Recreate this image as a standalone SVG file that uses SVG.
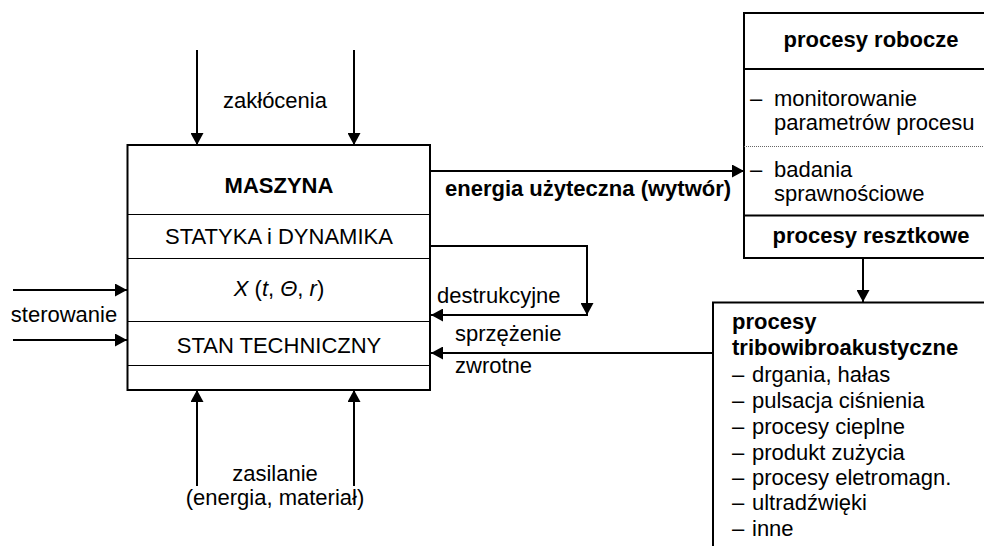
<svg xmlns="http://www.w3.org/2000/svg" width="984" height="546" viewBox="0 0 984 546">
  <defs>
    <marker id="arrow" markerUnits="userSpaceOnUse" markerWidth="13" markerHeight="13" refX="12" refY="6.5" orient="auto">
      <path d="M0,0 L12,6.5 L0,13 z" fill="#000"/>
    </marker>
    <style>
      text { font-family: "Liberation Sans", Arial, sans-serif; font-size: 22px; fill: #000; }
      .b { font-weight: bold; }
      .c { text-anchor: middle; }
      .box { fill: #fff; stroke: #000; stroke-width: 2; }
      .div { stroke: #000; stroke-width: 1; }
      .thick { stroke: #000; stroke-width: 2; }
      .dot { stroke: #666; stroke-width: 1; stroke-dasharray: 1 1; }
      .con { fill: none; stroke: #000; stroke-width: 2; }
      .arr { marker-end: url(#arrow); }
    </style>
  </defs>
  <rect width="984" height="546" fill="#fff"/>

  <!-- connectors -->
  <g id="connectors">
    <!-- disturbances (top) -->
    <line class="con arr" x1="197" y1="50" x2="197" y2="145"/>
    <line class="con arr" x1="354" y1="50" x2="354" y2="145"/>
    <!-- supply (bottom) -->
    <line class="con arr" x1="197" y1="486" x2="197" y2="390"/>
    <line class="con arr" x1="354" y1="486" x2="354" y2="390"/>
    <!-- control (left) -->
    <line class="con arr" x1="13" y1="290" x2="127" y2="290"/>
    <line class="con arr" x1="13" y1="340" x2="127" y2="340"/>
    <!-- useful energy -->
    <line class="con arr" x1="430" y1="171" x2="744" y2="171"/>
    <!-- destructive loop -->
    <polyline class="con arr" points="430,246 587,246 587,315"/>
    <line class="con arr" x1="588" y1="315" x2="431" y2="315"/>
    <!-- feedback -->
    <line class="con arr" x1="713" y1="353" x2="431" y2="353"/>
    <!-- residual -> tribo-vibro-acoustic -->
    <line class="con arr" x1="863" y1="258" x2="863" y2="302"/>
  </g>

  <!-- free labels -->
  <g id="labels">
    <text class="c" x="275" y="108">zakłócenia</text>
    <text class="c" x="64" y="322">sterowanie</text>
    <text class="c" x="275" y="481">zasilanie</text>
    <text class="c" x="275" y="505">(energia, materiał)</text>
    <text class="b" x="445" y="196">energia użyteczna (wytwór)</text>
    <text x="437" y="303">destrukcyjne</text>
    <text x="455" y="341">sprzężenie</text>
    <text x="455" y="373">zwrotne</text>
  </g>

  <!-- machine -->
  <g id="maszyna">
    <rect class="box" x="127.5" y="145" width="302.5" height="245"/>
    <line class="div" x1="127.5" y1="214.5" x2="430" y2="214.5"/>
    <line class="div" x1="127.5" y1="258.5" x2="430" y2="258.5"/>
    <line class="div" x1="127.5" y1="321.5" x2="430" y2="321.5"/>
    <line class="div" x1="127.5" y1="365.5" x2="430" y2="365.5"/>
    <text class="b c" x="279" y="193">MASZYNA</text>
    <text class="c" x="279" y="244">STATYKA i DYNAMIKA</text>
    <text class="c" x="279" y="296"><tspan font-style="italic">X</tspan> (<tspan font-style="italic">t</tspan>, <tspan font-style="italic">Θ</tspan>, <tspan font-style="italic">r</tspan>)</text>
    <text class="c" x="279" y="353">STAN TECHNICZNY</text>
  </g>

  <!-- working processes -->
  <g id="procesy-robocze">
    <rect class="box" x="744" y="13" width="260" height="245"/>
    <line class="thick" x1="744" y1="69" x2="1004" y2="69"/>
    <line class="dot" x1="744" y1="146.5" x2="1004" y2="146.5"/>
    <text class="b c" x="871" y="47">procesy robocze</text>
    <text x="750" y="106">–</text>
    <text x="774" y="106">monitorowanie</text>
    <text x="774" y="130">parametrów procesu</text>
    <text x="750" y="177">–</text>
    <text x="774" y="177">badania</text>
    <text x="774" y="201">sprawnościowe</text>
  </g>

  <!-- residual processes -->
  <g id="procesy-resztkowe">
    <line class="thick" x1="744" y1="215.5" x2="1004" y2="215.5"/>
    <text class="b c" x="871" y="243">procesy resztkowe</text>
  </g>

  <!-- tribo-vibro-acoustic processes -->
  <g id="procesy-tribo">
    <rect class="box" x="713" y="302.5" width="290" height="260"/>
    <text class="b" x="732" y="329">procesy</text>
    <text class="b" x="732" y="355">tribowibroakustyczne</text>
    <text x="732" y="382">–</text><text x="752" y="382">drgania, hałas</text>
    <text x="732" y="408">–</text><text x="752" y="408">pulsacja ciśnienia</text>
    <text x="732" y="434">–</text><text x="752" y="434">procesy cieplne</text>
    <text x="732" y="460">–</text><text x="752" y="460">produkt zużycia</text>
    <text x="732" y="485">–</text><text x="752" y="485">procesy eletromagn.</text>
    <text x="732" y="510">–</text><text x="752" y="510">ultradźwięki</text>
    <text x="732" y="536">–</text><text x="752" y="536">inne</text>
  </g>
</svg>
